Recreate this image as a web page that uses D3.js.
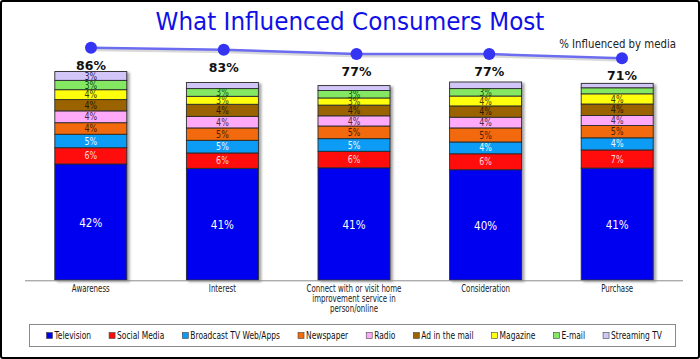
<!DOCTYPE html>
<html>
<head>
<meta charset="utf-8">
<script src="https://cdn.jsdelivr.net/npm/d3@7"></script>
<style>
body { margin: 0; background: #fff; }
svg { display: block; }
</style>
</head>
<body>
<svg width="700" height="359"></svg>
<script>
var stages = ["Awareness", "Interest", "Connect with or visit home\nimprovement service in\nperson/online", "Consideration", "Purchase"];
var series = ["Television", "Social Media", "Broadcast TV Web/Apps", "Newspaper", "Radio", "Ad in the mail", "Magazine", "E-mail", "Streaming TV"];
var colors = ["#0000f0", "#ff0a0a", "#0a9cf5", "#f26a0a", "#ffaaf8", "#9a6400", "#ffff10", "#84e864", "#d2c6f8"];
var labelColors = ["#ffffff", "#ffd6d6", "#eef6ff", "#4a1e00", "#4a2a4a", "#2a1800", "#404000", "#0e500e", "#302050"];

var television = [42.2, 40.6, 40.8, 40.1, 40.7];
var socialMedia = [5.9, 5.6, 6.0, 5.8, 6.6];
var broadcastTV = [4.9, 4.6, 4.6, 4.3, 4.4];
var newspaper = [4.2, 4.5, 4.6, 5.1, 4.5];
var radio = [4.3, 4.2, 3.7, 3.9, 3.6];
var adMail = [4.1, 4.4, 3.9, 4.1, 4.2];
var magazine = [3.6, 2.9, 2.6, 3.6, 3.7];
var email = [3.4, 2.8, 2.7, 2.7, 2.2];
var streamingTV = [3.2, 2.2, 1.8, 2.4, 1.6];
var influenced = [86, 83, 77, 77, 71];

var svg = d3.select("svg"),
    width = +svg.attr("width"),
    height = +svg.attr("height");

var FONT = "'DejaVu Sans', Verdana, sans-serif";

// squeeze a text horizontally around its own x anchor
function squeeze(node, k) {
    var ax = +node.getAttribute("x");
    node.setAttribute("transform", "translate(" + ax + ",0) scale(" + k + ",1) translate(" + (-ax) + ",0)");
}

var seriesValues = [television, socialMedia, broadcastTV, newspaper, radio, adMail, magazine, email, streamingTV];
var table = stages.map(function(s, i) {
    var row = { stage: s };
    series.forEach(function(k, j) { row[k] = seriesValues[j][i]; });
    return row;
});
var stacked = d3.stack().keys(series)(table);

var x = d3.scaleBand().domain(stages).range([25, 683]).paddingInner(0.453).paddingOuter(0.2265);
var y = d3.scaleLinear().domain([0, 100]).range([280, 5]);
var xLine = d3.scalePoint().domain(stages).range([91, 622]);
var yLine = d3.scaleLinear().domain([0, 100]).range([108.5, 37.8]);

var defs = svg.append("defs");
var f = defs.append("filter").attr("id", "shadow").attr("x", "-10%").attr("y", "-10%").attr("width", "130%").attr("height", "130%");
f.append("feDropShadow").attr("dx", 2.5).attr("dy", 1.5).attr("stdDeviation", 1.2)
    .attr("flood-color", "#000").attr("flood-opacity", 0.35);

// frame
svg.append("rect").attr("x", 1).attr("y", 1).attr("width", width - 2).attr("height", height - 2)
    .attr("rx", 2).attr("fill", "#fff").attr("stroke", "#000").attr("stroke-width", 2);

// title
var title = svg.append("text").attr("x", 350).attr("y", 30).attr("text-anchor", "middle")
    .style("font-family", FONT)
    .style("font-size", "25.5px").attr("fill", "#1010e6")
    .text("What Influenced Consumers Most");
squeeze(title.node(), 389 / title.node().getComputedTextLength());

// bars
var layer = svg.append("g").attr("filter", "url(#shadow)")
  .selectAll("g")
  .data(stacked)
  .enter().append("g")
    .attr("fill", function(d, i) { return colors[i]; });

layer.selectAll("rect")
  .data(function(d) { return d; })
  .enter().append("rect")
    .attr("x", function(d) { return x(d.data.stage); })
    .attr("y", function(d) { return y(d[1]); })
    .attr("width", x.bandwidth())
    .attr("height", function(d) { return y(d[0]) - y(d[1]); })
    .attr("stroke", "#2a2a2a").attr("stroke-width", 0.9);

// segment labels
var labels = svg.append("g")
    .style("font-family", FONT)
    .attr("text-anchor", "middle");
stacked.forEach(function(s, i) {
    labels.selectAll(null)
      .data(s.filter(function(d) { return Math.round(d[1] - d[0]) >= 3; }))
      .enter().append("text")
        .attr("x", function(d) { return x(d.data.stage) + x.bandwidth() / 2; })
        .attr("y", function(d) { return (y(d[0]) + y(d[1])) / 2; })
        .attr("dy", "0.36em")
        .style("font-size", i === 0 ? "13px" : "10px")
        .attr("fill", labelColors[i])
        .text(function(d) { return Math.round(d[1] - d[0]) + "%"; })
        .each(function() { squeeze(this, 0.8); });
});

// axis
svg.append("line").attr("x1", 25).attr("x2", 683).attr("y1", y(0) + 0.8).attr("y2", y(0) + 0.8)
    .attr("stroke", "#8a8a8a").attr("stroke-width", 1);

var cat = svg.append("g")
    .style("font-family", FONT)
    .style("font-size", "10px").attr("fill", "#222").attr("text-anchor", "middle");
stages.forEach(function(s) {
    var t = cat.append("text").attr("x", x(s) + x.bandwidth() / 2).attr("y", 292.5);
    s.split("\n").forEach(function(line, k) {
        t.append("tspan").attr("x", x(s) + x.bandwidth() / 2).attr("dy", k === 0 ? 0 : 9.8).text(line);
    });
});
var probe = cat.append("text").text("Connect with or visit home");
var catK = 95 / probe.node().getComputedTextLength();
probe.remove();
cat.selectAll("text").each(function() { squeeze(this, catK); });

// % influenced line
var line = d3.line()
    .x(function(d, i) { return xLine(stages[i]); })
    .y(function(d) { return yLine(d); });

svg.append("path").datum(influenced)
    .attr("d", line).attr("fill", "none")
    .attr("stroke", "#000").attr("stroke-opacity", 0.15).attr("stroke-width", 3)
    .attr("transform", "translate(1.5,2)");
svg.append("path").datum(influenced)
    .attr("d", line).attr("fill", "none")
    .attr("stroke", "#6c6cf0").attr("stroke-width", 2.5);

svg.selectAll("circle.pt")
  .data(influenced)
  .enter().append("circle")
    .attr("class", "pt")
    .attr("cx", function(d, i) { return xLine(stages[i]); })
    .attr("cy", function(d) { return yLine(d); })
    .attr("r", 6)
    .attr("fill", "#3434f2");

svg.selectAll("text.tot")
  .data(influenced)
  .enter().append("text")
    .attr("class", "tot")
    .attr("x", function(d, i) { return xLine(stages[i]); })
    .attr("y", function(d) { return yLine(d) + 17.5; })
    .attr("dy", "0.36em")
    .attr("text-anchor", "middle")
    .style("font-family", FONT).style("font-weight", "bold")
    .style("font-size", "12.5px").attr("fill", "#111")
    .text(function(d) { return d + "%"; });

var note = svg.append("text").attr("x", 676).attr("y", 48).attr("text-anchor", "end")
    .style("font-family", FONT)
    .style("font-size", "12px").attr("fill", "#222")
    .text("% Influenced by media");
squeeze(note.node(), 117 / note.node().getComputedTextLength());

// legend
svg.append("rect").attr("x", 29.5).attr("y", 324.5).attr("width", 646).attr("height", 22)
    .attr("fill", "#fff").attr("stroke", "#8a8a8a").attr("stroke-width", 1);

var legend = svg.append("g")
    .style("font-family", FONT)
    .style("font-size", "10.5px").attr("fill", "#111");
var items = series.map(function(s, i) {
    var g = legend.append("g");
    g.append("rect").attr("x", 0).attr("y", 332.5).attr("width", 6).attr("height", 6)
        .attr("fill", colors[i]).attr("stroke", "#444").attr("stroke-width", 0.6);
    var t = g.append("text").attr("x", 8).attr("y", 335.7).attr("dy", "0.36em").text(s);
    return { g: g, t: t, w: t.node().getComputedTextLength() };
});
var legStart = 46.5, legEnd = 662, gap = 18;
var textTotal = d3.sum(items, function(d) { return d.w; });
var legK = (legEnd - legStart - items.length * 8 - (items.length - 1) * gap) / textTotal;
var lx = legStart;
items.forEach(function(d) {
    d.g.attr("transform", "translate(" + lx + ",0)");
    squeeze(d.t.node(), legK);
    lx += 8 + d.w * legK + gap;
});
</script>
</body>
</html>
